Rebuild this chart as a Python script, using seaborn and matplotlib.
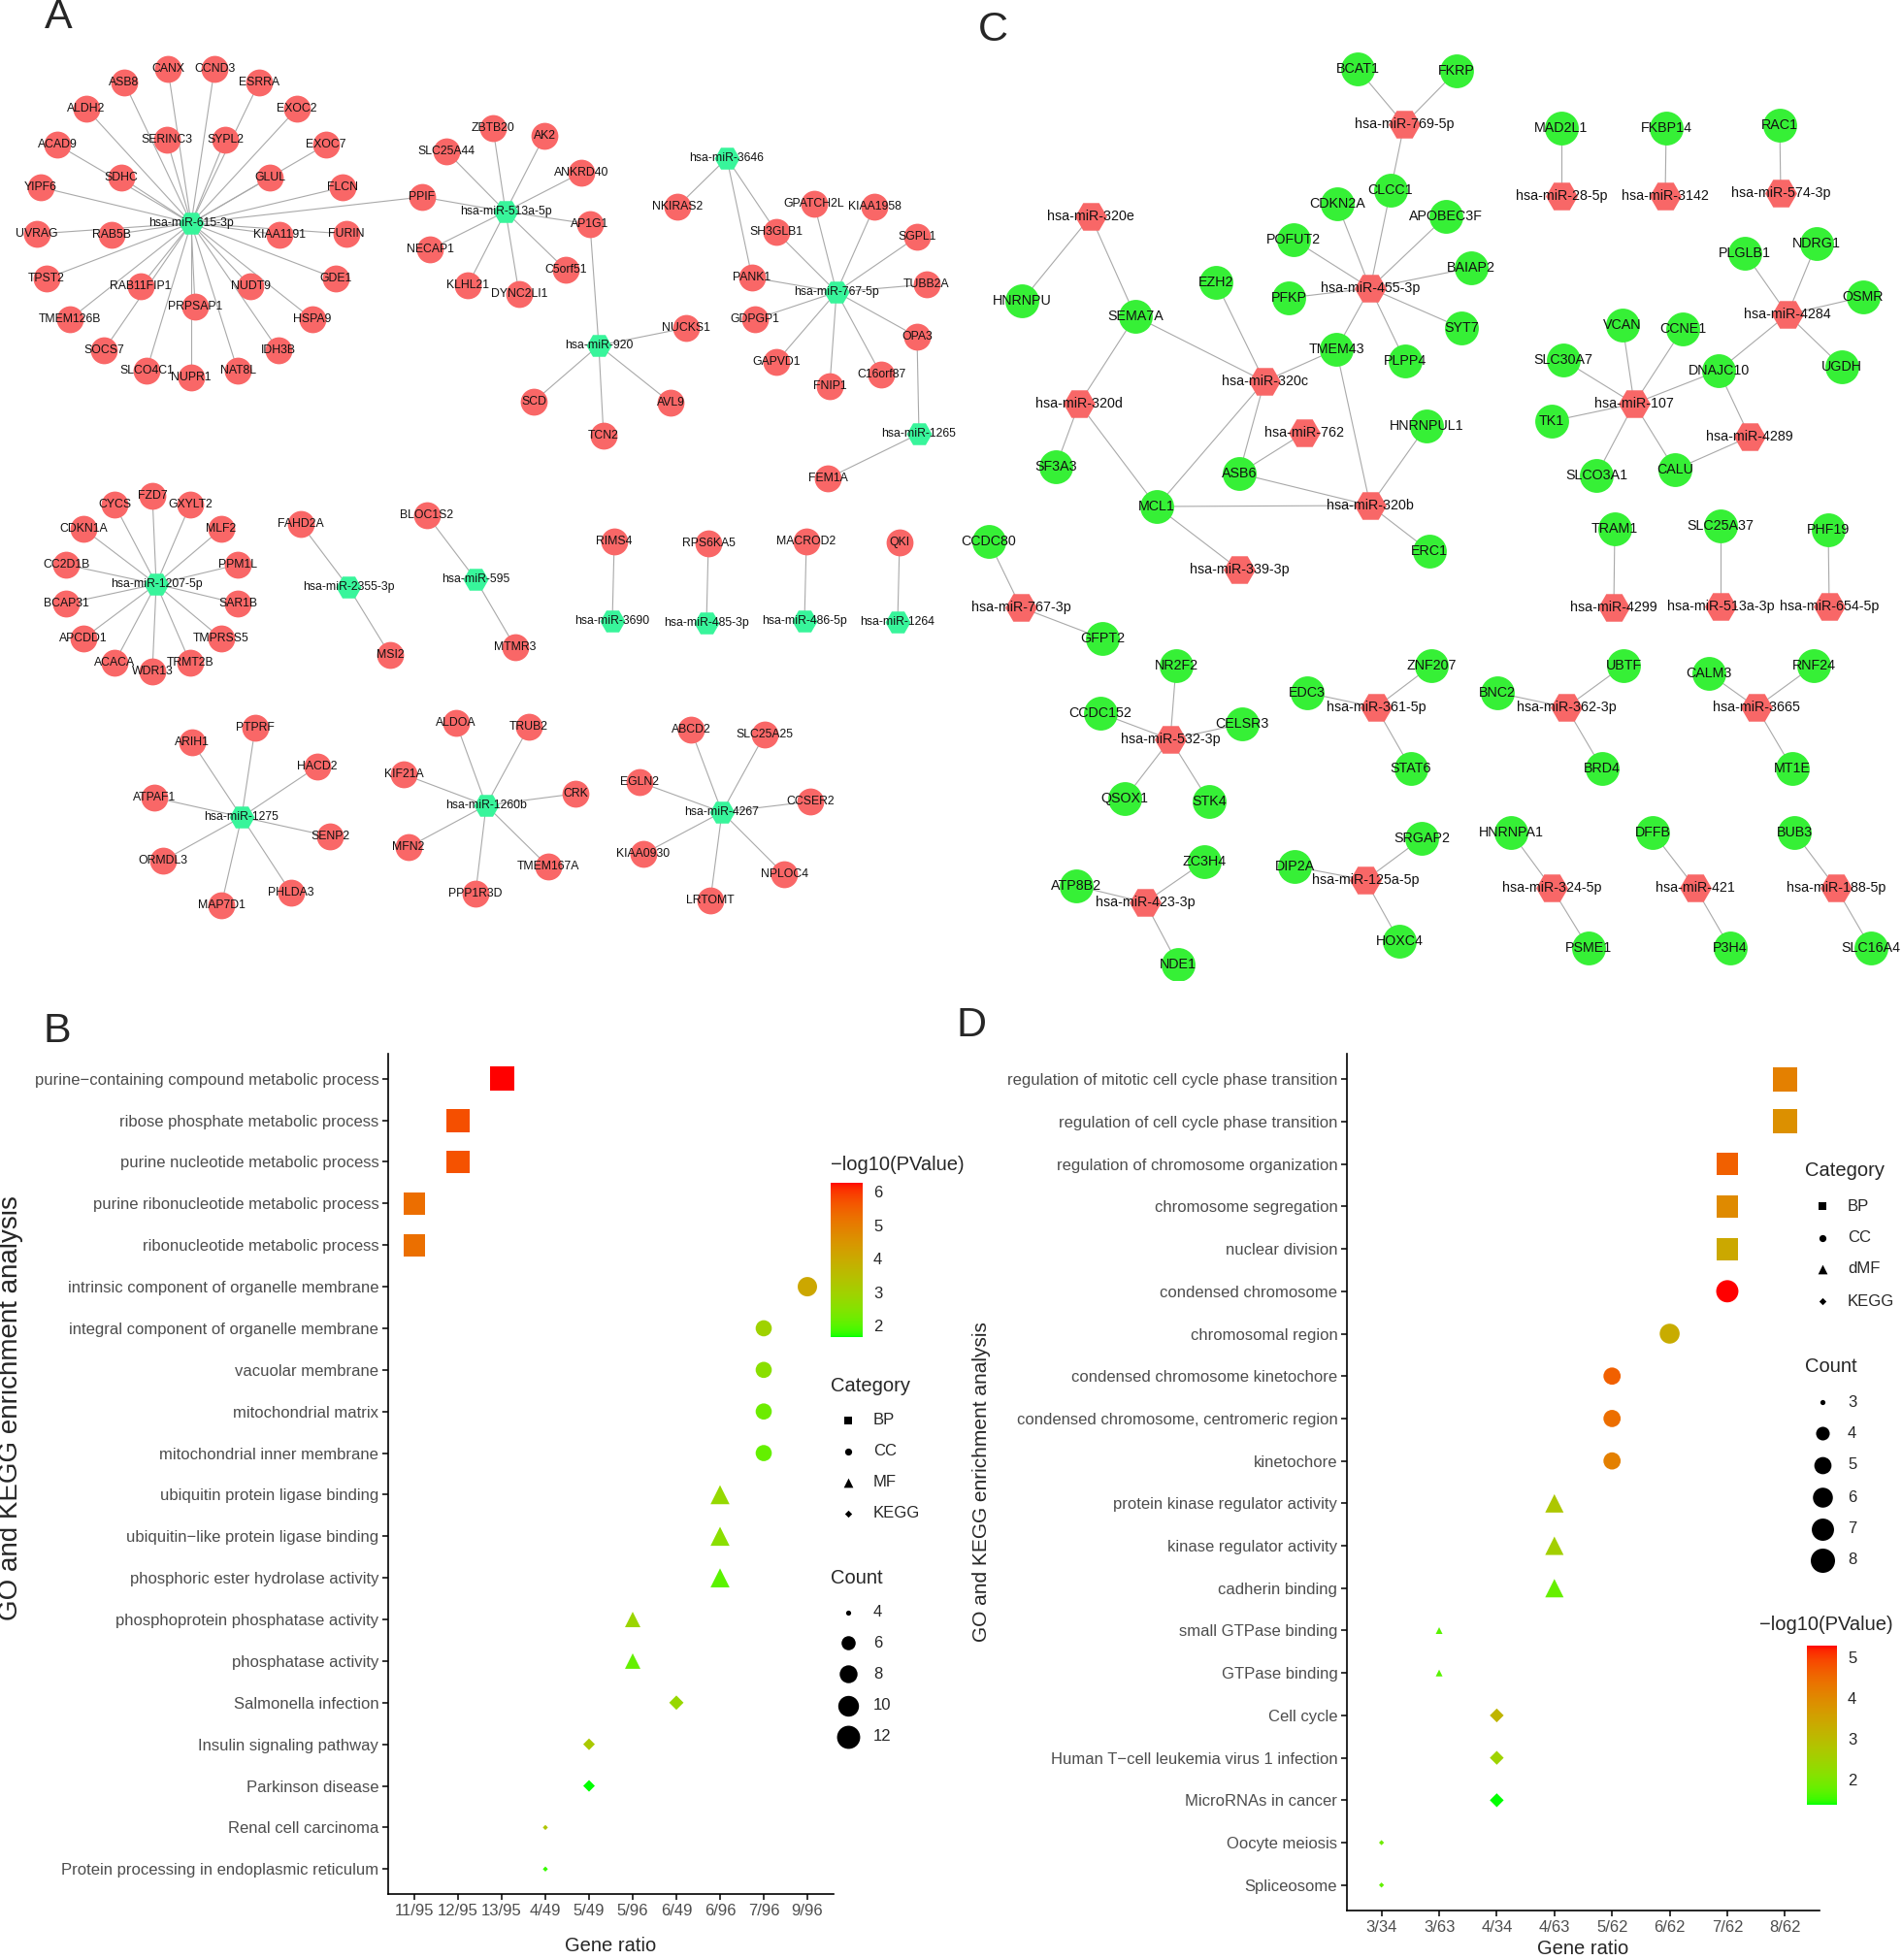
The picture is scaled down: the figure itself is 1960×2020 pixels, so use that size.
import numpy as np
import pandas as pd
import seaborn as sns
import matplotlib.pyplot as plt
from matplotlib.colors import ListedColormap, Normalize
from matplotlib.cm import ScalarMappable

W, H = 1960, 2020

# ---------------- panel A : miRNA -> target genes ----------------
a_targets = {
    "hsa-miR-615-3p": ["CANX", "CCND3", "ASB8", "ESRRA", "ALDH2", "EXOC2", "ACAD9",
                       "SERINC3", "SYPL2", "EXOC7", "SDHC", "GLUL", "YIPF6", "FLCN",
                       "UVRAG", "RAB5B", "KIAA1191", "FURIN", "TPST2", "GDE1",
                       "RAB11FIP1", "NUDT9", "PRPSAP1", "TMEM126B", "HSPA9", "SOCS7",
                       "IDH3B", "SLCO4C1", "NUPR1", "NAT8L", "PPIF"],
    "hsa-miR-513a-5p": ["PPIF", "SLC25A44", "ZBTB20", "AK2", "ANKRD40", "AP1G1",
                        "NECAP1", "C5orf51", "KLHL21", "DYNC2LI1"],
    "hsa-miR-920": ["AP1G1", "NUCKS1", "SCD", "TCN2", "AVL9"],
    "hsa-miR-3646": ["NKIRAS2", "SH3GLB1", "PANK1"],
    "hsa-miR-767-5p": ["GPATCH2L", "KIAA1958", "SGPL1", "TUBB2A", "OPA3", "C16orf87",
                       "FNIP1", "GAPVD1", "GDPGP1", "PANK1", "SH3GLB1"],
    "hsa-miR-1265": ["OPA3", "FEM1A"],
    "hsa-miR-1207-5p": ["FZD7", "CYCS", "GXYLT2", "CDKN1A", "MLF2", "CC2D1B", "PPM1L",
                        "BCAP31", "SAR1B", "APCDD1", "TMPRSS5", "ACACA", "TRMT2B", "WDR13"],
    "hsa-miR-2355-3p": ["FAHD2A", "MSI2"],
    "hsa-miR-595": ["BLOC1S2", "MTMR3"],
    "hsa-miR-3690": ["RIMS4"],
    "hsa-miR-485-3p": ["RPS6KA5"],
    "hsa-miR-486-5p": ["MACROD2"],
    "hsa-miR-1264": ["QKI"],
    "hsa-miR-1275": ["PTPRF", "ARIH1", "HACD2", "ATPAF1", "SENP2", "ORMDL3", "PHLDA3", "MAP7D1"],
    "hsa-miR-1260b": ["ALDOA", "TRUB2", "CRK", "TMEM167A", "PPP1R3D", "KIF21A", "MFN2"],
    "hsa-miR-4267": ["ABCD2", "SLC25A25", "EGLN2", "CCSER2", "KIAA0930", "NPLOC4", "LRTOMT"],
}

# network layout as drawn in the original picture (canvas pixels)
a_layout = {
    "hsa-miR-615-3p": (197, 230), "CANX": (173, 71), "CCND3": (221, 71), "ASB8": (128, 85),
    "ESRRA": (267, 85), "ALDH2": (89, 112), "EXOC2": (306, 112), "ACAD9": (59, 149),
    "SERINC3": (172, 144), "SYPL2": (232, 144), "EXOC7": (336, 149), "SDHC": (125, 183),
    "GLUL": (278, 183), "YIPF6": (42, 193), "FLCN": (353, 193), "UVRAG": (38, 241),
    "RAB5B": (115, 242), "KIAA1191": (288, 242), "FURIN": (357, 241), "TPST2": (48, 287),
    "GDE1": (346, 287), "RAB11FIP1": (145, 295), "NUDT9": (258, 295), "PRPSAP1": (201, 316),
    "TMEM126B": (72, 329), "HSPA9": (322, 329), "SOCS7": (107, 361), "IDH3B": (287, 361),
    "SLCO4C1": (151, 382), "NUPR1": (197, 389), "NAT8L": (245, 382), "PPIF": (435, 203),
    "hsa-miR-513a-5p": (521, 218), "SLC25A44": (460, 156), "ZBTB20": (508, 132),
    "AK2": (561, 140), "ANKRD40": (599, 178), "AP1G1": (608, 231), "NECAP1": (443, 257),
    "C5orf51": (583, 278), "KLHL21": (482, 294), "DYNC2LI1": (535, 303),
    "hsa-miR-920": (617, 356), "NUCKS1": (707, 338), "SCD": (550, 414), "TCN2": (622, 449),
    "AVL9": (691, 415),
    "hsa-miR-3646": (749, 163), "NKIRAS2": (698, 213), "SH3GLB1": (800, 239), "PANK1": (775, 286),
    "hsa-miR-767-5p": (862, 301), "GPATCH2L": (839, 210), "KIAA1958": (901, 213),
    "SGPL1": (945, 244), "TUBB2A": (955, 293), "GDPGP1": (778, 329), "OPA3": (945, 347),
    "GAPVD1": (800, 373), "C16orf87": (908, 386), "FNIP1": (855, 398),
    "hsa-miR-1265": (947, 447), "FEM1A": (853, 493),
    "hsa-miR-1207-5p": (161, 602), "FZD7": (157, 511), "CYCS": (118, 520), "GXYLT2": (196, 520),
    "CDKN1A": (86, 545), "MLF2": (228, 545), "CC2D1B": (68, 582), "PPM1L": (245, 582),
    "BCAP31": (68, 622), "SAR1B": (245, 622), "APCDD1": (86, 658), "TMPRSS5": (228, 658),
    "ACACA": (118, 683), "TRMT2B": (196, 683), "WDR13": (157, 692),
    "hsa-miR-2355-3p": (359, 605), "FAHD2A": (310, 540), "MSI2": (402, 675),
    "hsa-miR-595": (490, 597), "BLOC1S2": (440, 531), "MTMR3": (531, 667),
    "hsa-miR-3690": (631, 640), "RIMS4": (633, 558),
    "hsa-miR-485-3p": (728, 642), "RPS6KA5": (730, 560),
    "hsa-miR-486-5p": (829, 640), "MACROD2": (831, 558),
    "hsa-miR-1264": (925, 641), "QKI": (927, 559),
    "hsa-miR-1275": (249, 842), "PTPRF": (263, 750), "ARIH1": (198, 765), "HACD2": (327, 790),
    "ATPAF1": (159, 822), "SENP2": (340, 862), "ORMDL3": (168, 887), "PHLDA3": (300, 920),
    "MAP7D1": (228, 933),
    "hsa-miR-1260b": (501, 830), "ALDOA": (470, 745), "TRUB2": (545, 749), "CRK": (593, 818),
    "TMEM167A": (565, 893), "PPP1R3D": (490, 921), "KIF21A": (416, 798), "MFN2": (421, 873),
    "hsa-miR-4267": (744, 837), "ABCD2": (712, 752), "SLC25A25": (788, 757),
    "EGLN2": (659, 806), "CCSER2": (835, 826), "KIAA0930": (663, 880), "NPLOC4": (808, 901),
    "LRTOMT": (732, 928),
}

# ---------------- panel C : miRNA -> target genes ----------------
c_targets = {
    "hsa-miR-769-5p": ["BCAT1", "FKRP", "CLCC1"],
    "hsa-miR-455-3p": ["CLCC1", "CDKN2A", "POFUT2", "PFKP", "APOBEC3F", "BAIAP2", "SYT7",
                       "PLPP4", "TMEM43"],
    "hsa-miR-320e": ["HNRNPU", "SEMA7A"],
    "hsa-miR-320d": ["SEMA7A", "SF3A3", "MCL1"],
    "hsa-miR-320c": ["SEMA7A", "EZH2", "TMEM43", "MCL1", "ASB6"],
    "hsa-miR-762": ["ASB6"],
    "hsa-miR-320b": ["ASB6", "TMEM43", "HNRNPUL1", "MCL1", "ERC1"],
    "hsa-miR-339-3p": ["MCL1"],
    "hsa-miR-28-5p": ["MAD2L1"],
    "hsa-miR-3142": ["FKBP14"],
    "hsa-miR-574-3p": ["RAC1"],
    "hsa-miR-4284": ["PLGLB1", "NDRG1", "OSMR", "UGDH", "DNAJC10"],
    "hsa-miR-107": ["VCAN", "CCNE1", "SLC30A7", "TK1", "SLCO3A1", "CALU", "DNAJC10"],
    "hsa-miR-4289": ["DNAJC10", "CALU"],
    "hsa-miR-767-3p": ["CCDC80", "GFPT2"],
    "hsa-miR-4299": ["TRAM1"],
    "hsa-miR-513a-3p": ["SLC25A37"],
    "hsa-miR-654-5p": ["PHF19"],
    "hsa-miR-532-3p": ["NR2F2", "CCDC152", "CELSR3", "QSOX1", "STK4"],
    "hsa-miR-361-5p": ["EDC3", "ZNF207", "STAT6"],
    "hsa-miR-362-3p": ["BNC2", "UBTF", "BRD4"],
    "hsa-miR-3665": ["CALM3", "RNF24", "MT1E"],
    "hsa-miR-423-3p": ["ATP8B2", "ZC3H4", "NDE1"],
    "hsa-miR-125a-5p": ["DIP2A", "SRGAP2", "HOXC4"],
    "hsa-miR-324-5p": ["HNRNPA1", "PSME1"],
    "hsa-miR-421": ["DFFB", "P3H4"],
    "hsa-miR-188-5p": ["BUB3", "SLC16A4"],
}

c_layout = {
    "hsa-miR-769-5p": (1447, 128), "BCAT1": (1399, 71), "FKRP": (1501, 73), "CLCC1": (1433, 196),
    "hsa-miR-455-3p": (1412, 297), "CDKN2A": (1378, 210), "POFUT2": (1333, 247),
    "PFKP": (1328, 307), "APOBEC3F": (1490, 223), "BAIAP2": (1516, 276), "SYT7": (1506, 338),
    "PLPP4": (1448, 372), "TMEM43": (1377, 360),
    "hsa-miR-320e": (1124, 223), "HNRNPU": (1053, 310), "SEMA7A": (1170, 326),
    "hsa-miR-320d": (1112, 416), "SF3A3": (1088, 481), "MCL1": (1192, 522),
    "hsa-miR-320c": (1303, 393), "EZH2": (1253, 291), "ASB6": (1277, 488),
    "hsa-miR-762": (1344, 446),
    "hsa-miR-320b": (1412, 521), "HNRNPUL1": (1470, 439), "ERC1": (1473, 568),
    "hsa-miR-339-3p": (1277, 587),
    "hsa-miR-28-5p": (1609, 202), "MAD2L1": (1609, 132),
    "hsa-miR-3142": (1716, 202), "FKBP14": (1717, 132),
    "hsa-miR-574-3p": (1835, 199), "RAC1": (1834, 129),
    "hsa-miR-4284": (1842, 324), "PLGLB1": (1798, 261), "NDRG1": (1872, 251),
    "OSMR": (1920, 306), "UGDH": (1898, 378), "DNAJC10": (1771, 382),
    "hsa-miR-107": (1684, 416), "VCAN": (1672, 335), "CCNE1": (1734, 339),
    "SLC30A7": (1611, 371), "TK1": (1599, 434), "SLCO3A1": (1645, 490), "CALU": (1726, 484),
    "hsa-miR-4289": (1803, 450),
    "hsa-miR-767-3p": (1052, 626), "CCDC80": (1019, 558), "GFPT2": (1136, 658),
    "hsa-miR-4299": (1663, 626), "TRAM1": (1664, 545),
    "hsa-miR-513a-3p": (1773, 625), "SLC25A37": (1773, 542),
    "hsa-miR-654-5p": (1885, 625), "PHF19": (1884, 546),
    "hsa-miR-532-3p": (1206, 762), "NR2F2": (1212, 686), "CCDC152": (1134, 735),
    "CELSR3": (1280, 746), "QSOX1": (1159, 823), "STK4": (1246, 826),
    "hsa-miR-361-5p": (1418, 729), "EDC3": (1347, 714), "ZNF207": (1475, 686), "STAT6": (1454, 792),
    "hsa-miR-362-3p": (1614, 729), "BNC2": (1543, 714), "UBTF": (1673, 686), "BRD4": (1651, 792),
    "hsa-miR-3665": (1810, 729), "CALM3": (1761, 694), "RNF24": (1869, 686), "MT1E": (1847, 792),
    "hsa-miR-423-3p": (1180, 930), "ATP8B2": (1109, 913), "ZC3H4": (1241, 888), "NDE1": (1214, 994),
    "hsa-miR-125a-5p": (1407, 907), "DIP2A": (1334, 893), "SRGAP2": (1465, 864), "HOXC4": (1442, 970),
    "hsa-miR-324-5p": (1599, 915), "HNRNPA1": (1557, 858), "PSME1": (1637, 977),
    "hsa-miR-421": (1747, 915), "DFFB": (1703, 858), "P3H4": (1783, 977),
    "hsa-miR-188-5p": (1892, 915), "BUB3": (1849, 858), "SLC16A4": (1928, 977),
}

# ---------------- panel B : enrichment ----------------
b_terms = ["purine\u2212containing compound metabolic process", "ribose phosphate metabolic process",
           "purine nucleotide metabolic process", "purine ribonucleotide metabolic process",
           "ribonucleotide metabolic process", "intrinsic component of organelle membrane",
           "integral component of organelle membrane", "vacuolar membrane", "mitochondrial matrix",
           "mitochondrial inner membrane", "ubiquitin protein ligase binding",
           "ubiquitin\u2212like protein ligase binding", "phosphoric ester hydrolase activity",
           "phosphoprotein phosphatase activity", "phosphatase activity", "Salmonella infection",
           "Insulin signaling pathway", "Parkinson disease", "Renal cell carcinoma",
           "Protein processing in endoplasmic reticulum"]
b_ratio = ["13/95", "12/95", "12/95", "11/95", "11/95", "9/96", "7/96", "7/96", "7/96", "7/96",
           "6/96", "6/96", "6/96", "5/96", "5/96", "6/49", "5/49", "5/49", "4/49", "4/49"]
b_category = ["BP"] * 5 + ["CC"] * 5 + ["MF"] * 5 + ["KEGG"] * 5
b_logp = [6.26, 5.73, 5.70, 5.26, 5.24, 4.06, 2.95, 2.58, 2.20, 2.12,
          2.77, 2.58, 2.03, 2.86, 2.12, 2.80, 3.18, 1.66, 3.28, 1.80]
b_ratio_levels = ["11/95", "12/95", "13/95", "4/49", "5/49", "5/96", "6/49", "6/96", "7/96", "9/96"]
b_categories = ["BP", "CC", "MF", "KEGG"]
b_count_breaks = [4, 6, 8, 10, 12]
b_cbar_ticks = [2, 3, 4, 5, 6]

# ---------------- panel D : enrichment ----------------
d_terms = ["regulation of mitotic cell cycle phase transition",
           "regulation of cell cycle phase transition", "regulation of chromosome organization",
           "chromosome segregation", "nuclear division", "condensed chromosome",
           "chromosomal region", "condensed chromosome kinetochore",
           "condensed chromosome, centromeric region", "kinetochore",
           "protein kinase regulator activity", "kinase regulator activity", "cadherin binding",
           "small GTPase binding", "GTPase binding", "Cell cycle",
           "Human T\u2212cell leukemia virus 1 infection", "MicroRNAs in cancer",
           "Oocyte meiosis", "Spliceosome"]
d_ratio = ["8/62", "8/62", "7/62", "7/62", "7/62", "7/62", "6/62", "5/62", "5/62", "5/62",
           "4/63", "4/63", "4/63", "3/63", "3/63", "4/34", "4/34", "4/34", "3/34", "3/34"]
d_category = ["BP"] * 5 + ["CC"] * 5 + ["dMF"] * 5 + ["KEGG"] * 5
d_logp = [4.14, 3.87, 4.63, 3.98, 3.38, 5.28, 3.30, 4.63, 4.44, 4.14,
          2.73, 2.54, 1.78, 1.67, 1.67, 3.11, 2.46, 1.38, 1.86, 1.74]
d_ratio_levels = ["3/34", "3/63", "4/34", "4/63", "5/62", "6/62", "7/62", "8/62"]
d_categories = ["BP", "CC", "dMF", "KEGG"]
d_count_breaks = [3, 4, 5, 6, 7, 8]
d_cbar_ticks = [2, 3, 4, 5]


# ggplot-like green -> red gradient interpolated in CIE Lab
def _srgb_to_lab(rgb):
    c = np.asarray(rgb, float)
    lin = np.where(c <= 0.04045, c / 12.92, ((c + 0.055) / 1.055) ** 2.4)
    m = np.array([[0.4124564, 0.3575761, 0.1804375],
                  [0.2126729, 0.7151522, 0.0721750],
                  [0.0193339, 0.1191920, 0.9503041]])
    xyz = m @ lin / np.array([0.95047, 1.0, 1.08883])
    f = np.where(xyz > (6 / 29) ** 3, np.cbrt(xyz), xyz / (3 * (6 / 29) ** 2) + 4 / 29)
    return np.array([116 * f[1] - 16, 500 * (f[0] - f[1]), 200 * (f[1] - f[2])])


def _lab_to_srgb(lab):
    L, a, b = lab
    fy = (L + 16) / 116
    f = np.array([fy + a / 500, fy, fy - b / 200])
    xyz = np.where(f > 6 / 29, f ** 3, 3 * (6 / 29) ** 2 * (f - 4 / 29))
    xyz = xyz * np.array([0.95047, 1.0, 1.08883])
    minv = np.array([[3.2404542, -1.5371385, -0.4985314],
                     [-0.9692660, 1.8760108, 0.0415560],
                     [0.0556434, -0.2040259, 1.0572252]])
    lin = np.clip(minv @ xyz, 0, 1)
    return np.where(lin <= 0.0031308, 12.92 * lin, 1.055 * lin ** (1 / 2.4) - 0.055)


def lab_ramp(low, high, n=256):
    l0, l1 = _srgb_to_lab(low), _srgb_to_lab(high)
    return ListedColormap([np.clip(_lab_to_srgb(l0 + t * (l1 - l0)), 0, 1)
                           for t in np.linspace(0, 1, n)])


green_red = lab_ramp((0, 1, 0), (1, 0, 0))

sns.set_style("white")
plt.rcParams["font.family"] = ["Liberation Sans", "DejaVu Sans"]

fig = plt.figure(figsize=(W / 100, H / 100), dpi=100)


def frac(x0, y0, x1, y1):
    return [x0 / W, 1 - y1 / H, (x1 - x0) / W, (y1 - y0) / H]


def draw_network(ax, targets, layout, gene_color, hub_color, gene_s, hub_s, fs):
    for hub, genes in targets.items():
        for g in genes:
            (x0, y0), (x1, y1) = layout[hub], layout[g]
            ax.plot([x0, x1], [y0, y1], color="#a9a9a9", lw=0.8, zorder=1)
    genes = list(dict.fromkeys(g for gs in targets.values() for g in gs))
    nodes = pd.DataFrame({"name": list(targets) + genes,
                          "kind": ["miRNA"] * len(targets) + ["gene"] * len(genes)})
    nodes["x"] = [layout[n][0] for n in nodes["name"]]
    nodes["y"] = [layout[n][1] for n in nodes["name"]]
    sns.scatterplot(data=nodes[nodes.kind == "gene"], x="x", y="y", color=gene_color,
                    s=gene_s, marker="o", linewidth=0, ax=ax, zorder=2, legend=False)
    sns.scatterplot(data=nodes[nodes.kind == "miRNA"], x="x", y="y", color=hub_color,
                    s=hub_s, marker="H", linewidth=0, ax=ax, zorder=2, legend=False)
    for r in nodes.itertuples():
        ax.text(r.x, r.y, r.name, ha="center", va="center", fontsize=fs,
                color="#111111", zorder=3)
    ax.axis("off")


ax_a = fig.add_axes(frac(0, 0, 980, 1010))
draw_network(ax_a, a_targets, a_layout, "#f96767", "#38f59b", 400, 350, 8.8)
ax_a.set_xlim(0, 980)
ax_a.set_ylim(1010, 0)

ax_c = fig.add_axes(frac(980, 0, 1960, 1010))
draw_network(ax_c, c_targets, c_layout, "#36f036", "#f86767", 630, 560, 10.3)
ax_c.set_xlim(980, 1960)
ax_c.set_ylim(1010, 0)

# marker, linear size factor relative to a circle (ggplot shapes 15/16/17/18)
shape_of = {"BP": ("s", 1.0), "CC": ("o", 1.0), "MF": ("^", 1.35), "dMF": ("^", 1.35),
            "KEGG": ("D", 0.72)}


def diam_fn(cmin, cmax):
    def diam(c):
        r = 1 + 5 * np.sqrt((c - cmin) / (cmax - cmin))
        return 2.85 * r + 0.9
    return diam


def dot_panel(ax, terms, ratio, cat, logp, levels, ylab_size, xlab_pad):
    df = pd.DataFrame({"term": terms, "ratio": ratio, "cat": cat, "logp": logp})
    df["count"] = df["ratio"].str.split("/").str[0].astype(int)
    df["xpos"] = df["ratio"].map({r: i for i, r in enumerate(levels)})
    df["ypos"] = np.arange(len(df))
    cmin, cmax = df["count"].min(), df["count"].max()
    diam = diam_fn(cmin, cmax)
    norm = (df["logp"].min(), df["logp"].max())
    for c in df["cat"].unique():
        m, fac = shape_of[c]
        sub = df[df["cat"] == c]
        sizes = {k: (diam(k) * fac) ** 2 for k in range(cmin, cmax + 1)}
        sns.scatterplot(data=sub, x="xpos", y="ypos", hue="logp", hue_norm=norm,
                        palette=green_red, size="count", sizes=sizes, marker=m,
                        linewidth=0, legend=False, ax=ax, zorder=3)
    ax.set_xlim(-0.6, len(levels) - 0.4)
    ax.set_ylim(len(df) - 0.4, -0.6)
    ax.set_xticks(range(len(levels)), levels)
    ax.set_yticks(range(len(df)), df["term"])
    for s in ["top", "right"]:
        ax.spines[s].set_visible(False)
    for s in ["left", "bottom"]:
        ax.spines[s].set_color("black")
        ax.spines[s].set_linewidth(1.2)
    ax.tick_params(length=4, width=1.1, color="black", labelcolor="#4d4d4d",
                   labelsize=12, bottom=True, left=True, pad=3)
    ax.set_xlabel("Gene ratio", fontsize=14.5, labelpad=xlab_pad)
    ax.set_ylabel("GO and KEGG enrichment analysis", fontsize=ylab_size)
    return norm, diam


ax_b = fig.add_axes(frac(400, 1086, 859, 1952))
b_norm, b_diam = dot_panel(ax_b, b_terms, b_ratio, b_category, b_logp, b_ratio_levels, 20, 14)
ax_b.yaxis.set_label_coords((24 - 400) / 459, 0.578)

ax_d = fig.add_axes(frac(1388, 1086, 1875, 1969))
d_norm, d_diam = dot_panel(ax_d, d_terms, d_ratio, d_category, d_logp, d_ratio_levels, 15, 4)
ax_d.yaxis.set_label_coords((1021 - 1388) / 487, 0.5)

# overlay in pixel coordinates for legends and panel letters
ov = fig.add_axes([0, 0, 1, 1], zorder=5)
ov.set_xlim(0, W)
ov.set_ylim(H, 0)
ov.axis("off")
ov.patch.set_visible(False)

for letter, (x, y) in {"A": (60, 18), "C": (1023, 31), "B": (59, 1063), "D": (1001, 1057)}.items():
    ov.text(x, y, letter, fontsize=31, ha="center", va="center")


def category_legend(x, y_title, ys, cats):
    ov.text(x, y_title, "Category", fontsize=14.5, va="center")
    for c, yy in zip(cats, ys):
        m, fac = shape_of[c]
        ov.scatter([x + 18], [yy], marker=m, s=(5.2 * fac) ** 2, color="black", linewidth=0)
        ov.text(x + 44, yy, c, fontsize=12, va="center")


def count_legend(x, y_title, ys, breaks, diam):
    ov.text(x, y_title, "Count", fontsize=14.5, va="center")
    for b, yy in zip(breaks, ys):
        ov.scatter([x + 18], [yy], marker="o", s=diam(b) ** 2, color="black", linewidth=0)
        ov.text(x + 44, yy, str(b), fontsize=12, va="center")


def color_legend(x, y_title, bar, norm, ticks):
    ov.text(x, y_title, "\u2212log10(PValue)", fontsize=14.5, va="center")
    cax = fig.add_axes(frac(*bar))
    cb = fig.colorbar(ScalarMappable(Normalize(*norm), green_red), cax=cax)
    cb.outline.set_visible(False)
    cb.set_ticks(ticks)
    cax.tick_params(which="both", direction="in", length=6, width=1, color="white",
                    left=True, right=True, labelsize=12, pad=8)


# panel B legends
color_legend(856, 1200, (856, 1219, 889, 1378), b_norm, b_cbar_ticks)
category_legend(856, 1429, [1464, 1496, 1528, 1560], b_categories)
count_legend(856, 1626, [1662, 1693, 1725, 1758, 1790], b_count_breaks, b_diam)

# panel D legends
category_legend(1860, 1207, [1243, 1276, 1308, 1341], d_categories)
count_legend(1860, 1409, [1445, 1477, 1510, 1543, 1576, 1608], d_count_breaks, d_diam)
color_legend(1813, 1675, (1862, 1696, 1893, 1860), d_norm, d_cbar_ticks)

fig.savefig("out.png", dpi=100)
